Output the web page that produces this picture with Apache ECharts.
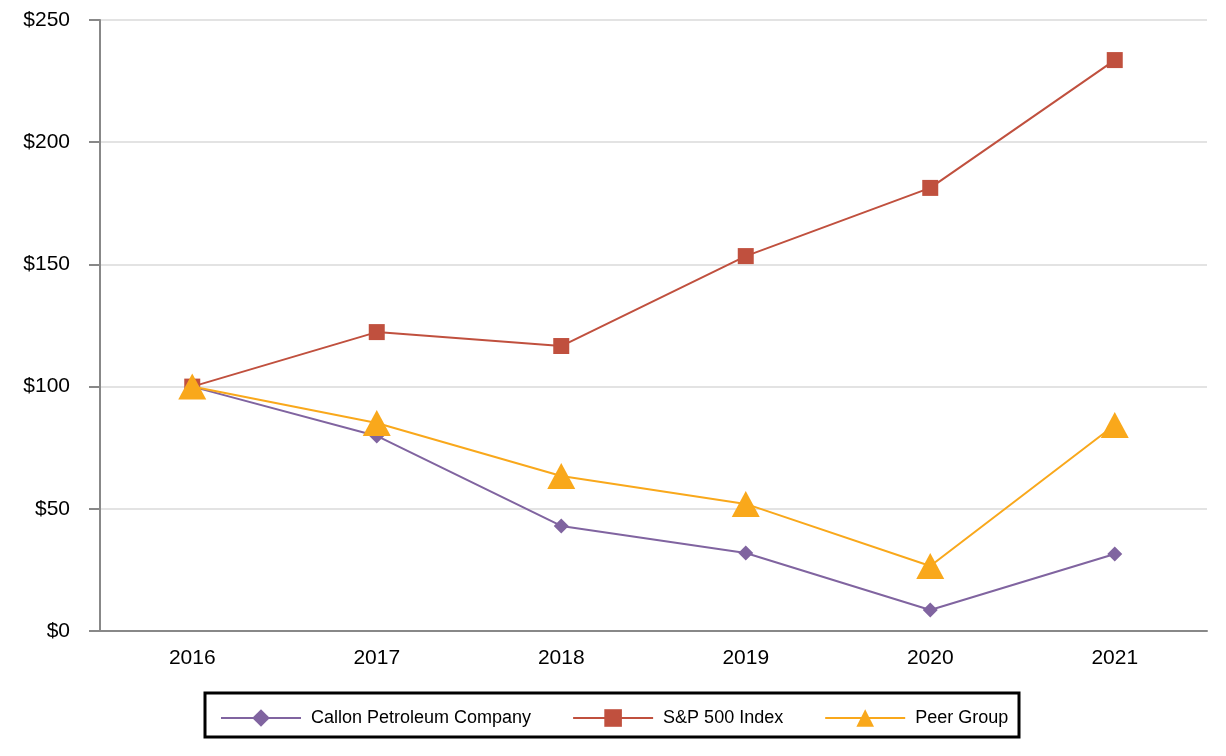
<!DOCTYPE html>
<html><head><meta charset="utf-8">
<script src="https://cdn.jsdelivr.net/npm/echarts@6/dist/echarts.min.js"></script>
<style>html,body{margin:0;padding:0;background:#fff}#c{width:1226px;height:756px}</style>
</head><body><div id="c"></div>
<script>
const years = ['2016','2017','2018','2019','2020','2021'];
const callon = [100, 79.8, 43.0, 31.9, 8.6, 31.5];
const sp500 = [100, 122.3, 116.6, 153.4, 181.3, 233.6];
const peer = [100, 85.1, 63.4, 52.0, 26.6, 84.3];
const seriesNames = ['Callon Petroleum Company', 'S&P 500 Index', 'Peer Group'];

const chart = echarts.init(document.getElementById('c'));
const font = 'Liberation Sans, Arial, sans-serif';
chart.setOption({
  animation: false,
  backgroundColor: '#fff',
  textStyle: {fontFamily: font},
  grid: {left: 100, right: 19, top: 20, bottom: 125},
  legend: {
    left: 215, top: 704, itemWidth: 80, itemHeight: 22, itemGap: 41,
    textStyle: {fontSize: 18, color: '#000', fontFamily: font, padding: [0, 0, 0, 5]},
    data: seriesNames
  },
  graphic: [{type: 'rect', shape: {x: 205, y: 693, width: 814, height: 44},
    style: {fill: 'none', stroke: '#000', lineWidth: 3}}],
  xAxis: {
    type: 'category', data: years, boundaryGap: true,
    axisLine: {lineStyle: {color: '#888', width: 2}},
    axisTick: {alignWithLabel: true, length: 10, lineStyle: {color: '#888', width: 2}},
    axisLabel: {fontSize: 21, color: '#000', margin: 17, fontFamily: font}
  },
  yAxis: {
    type: 'value', min: 0, max: 250, interval: 50,
    axisLine: {show: true, lineStyle: {color: '#888', width: 2}},
    axisTick: {show: true, length: 11, lineStyle: {color: '#888', width: 2}},
    axisLabel: {fontSize: 21, color: '#000', margin: 30, formatter: v => '$' + v, fontFamily: font},
    splitLine: {lineStyle: {color: '#e3e3e3', width: 2}}
  },
  series: [
    {name: seriesNames[0], type: 'line', data: callon, symbol: 'diamond', symbolSize: 15,
     itemStyle: {color: '#8064a0'}, lineStyle: {width: 2, color: '#8064a0'}, z: 3},
    {name: seriesNames[1], type: 'line', data: sp500, symbol: 'rect', symbolSize: 16,
     itemStyle: {color: '#c0503e'}, lineStyle: {width: 2, color: '#c0503e'}, z: 2},
    {name: seriesNames[2], type: 'line', data: peer, symbol: 'triangle', symbolSize: [28, 26],
     itemStyle: {color: '#f9a81b'}, lineStyle: {width: 2, color: '#f9a81b'}, z: 4}
  ]
});
</script></body></html>
